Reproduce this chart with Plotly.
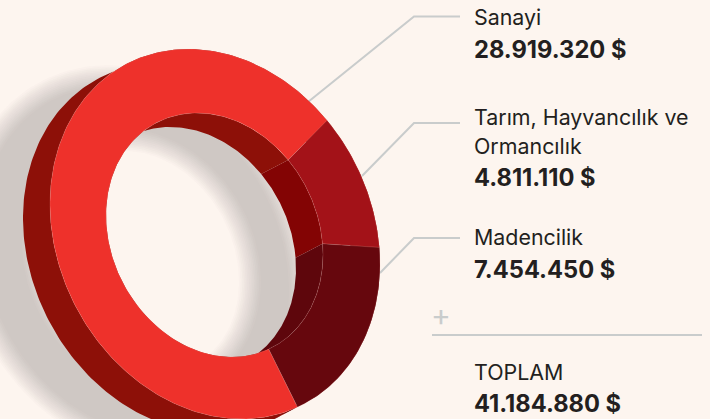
import numpy as np
import plotly.graph_objects as go

# ---- data ----
categories = ["Sanayi", "Tarım, Hayvancılık ve", "Ormancılık", "Madencilik"]
values = [28919320, 4811110, 7454450]
total_label = "TOPLAM"

# ---- styles ----
BG = "#FDF5EF"
TXT = "#231F20"
RULE = "#C9CCCC"
FACE = ["#EE312B", "#A31218", "#66070D"]
INNER_WALL = ["#8D1008", "#830404", "#5E060C"]
OUTER_WALL = ["#8D1008", "#8D1008", "#5E060C"]
SHADOW = "207,200,196"
FONT = "Inter"

OUTER = (215.0, 234.0, 165.0, 182.5, 30.0)
INNER = (214.5, 235.0, 108.5, 120.4, 19.7)
DEPTH = (-27.0, 14.0)
SHADOW_OUTER_SHIFT = (-80.0, 27.0)
SHADOW_INNER_SHIFT = (-73.0, 27.0)
BLUR = 11.0
START = 60.0


def ell(e, deg, shift=(0.0, 0.0), grow=0.0):
    t = np.radians(deg)
    cx, cy, a, b, c = e
    x = cx + shift[0] + (a + grow) * np.cos(t)
    y = cy + shift[1] + (b + grow) * np.sin(t) + c * np.cos(t)
    return x, y


def band(e1, s1, g1, e2, s2, g2, t0, t1):
    t = np.linspace(t0, t1, 200)
    x1, y1 = ell(e1, t, s1, g1)
    x2, y2 = ell(e2, t[::-1], s2, g2)
    return np.r_[x1, x2, x1[0]], np.r_[y1, y2, y1[0]]


fig = go.Figure()


def poly(xy, color, line=None):
    fig.add_trace(go.Scatter(
        x=xy[0], y=xy[1], mode="lines", fill="toself", fillcolor=color,
        line=dict(width=0.5 if line else 0, color=line or color),
        hoverinfo="skip", showlegend=False))


# soft shadow
N = 14
for k, d in enumerate(np.linspace(BLUR, -BLUR, N)):
    poly(band(OUTER, SHADOW_OUTER_SHIFT, d, INNER, SHADOW_INNER_SHIFT, -d, 0, 360),
         f"rgba({SHADOW},{1 / (N - k):.4f})")

# slice angles come from the values
fractions = np.array(values) / sum(values)
edges = START + np.r_[0, np.cumsum(fractions)] * 360

# extruded walls
for i in range(len(values)):
    poly(band(OUTER, DEPTH, 0, OUTER, (0, 0), 0, edges[i], edges[i + 1]), OUTER_WALL[i])
for i in range(len(values)):
    poly(band(INNER, DEPTH, 0, INNER, (0, 0), 0, edges[i], edges[i + 1]), INNER_WALL[i])
# front faces
for i in range(len(values)):
    poly(band(OUTER, (0, 0), 0, INNER, (0, 0), 0, edges[i], edges[i + 1]), FACE[i],
         line="rgba(255,190,180,0.3)")

fig.update_xaxes(range=[0, 710], visible=False, fixedrange=True)
fig.update_yaxes(range=[419, 0], visible=False, fixedrange=True)


def label(text, y, bold=False):
    size = 23.7 if bold else 21.4
    fig.add_annotation(
        x=473, y=y, xref="x", yref="y", xanchor="left", yanchor="middle",
        text=f"<b>{text}</b>" if bold else text, showarrow=False, align="left",
        font=dict(family=FONT, size=size, color=TXT), borderpad=0)


def money(v):
    return f"{v:,}".replace(",", ".") + " $"


label(categories[0], 17)
label(money(values[0]), 49, True)
label(categories[1], 117)
label(categories[2], 146)
label(money(values[1]), 177, True)
label(categories[3], 237)
label(money(values[2]), 269, True)
label(total_label, 372)
label(money(sum(values)), 403, True)

fig.add_annotation(x=441, y=315, xref="x", yref="y", text="+", showarrow=False,
                   font=dict(family=FONT, size=30, color=RULE))

leaders = [
    [(308, 102), (414, 16.5), (460, 16.5)],
    [(362, 176), (414, 123), (460, 123)],
    [(380, 273), (414, 238), (460, 238)],
    [(432, 335), (702, 335)],
]
for pts in leaders:
    path = "M " + " L ".join(f"{x},{y}" for x, y in pts)
    fig.add_shape(type="path", path=path, xref="x", yref="y", layer="below",
                  line=dict(color=RULE, width=2))

fig.update_layout(width=710, height=419, margin=dict(l=0, r=0, t=0, b=0),
                  paper_bgcolor=BG, plot_bgcolor=BG, showlegend=False)
fig.write_html(
    "out.html", config=dict(displayModeBar=False),
    post_script=f"document.body.style.margin='0';document.body.style.overflow='hidden';"
                f"document.documentElement.style.overflow='hidden';document.body.style.background='{BG}';")
